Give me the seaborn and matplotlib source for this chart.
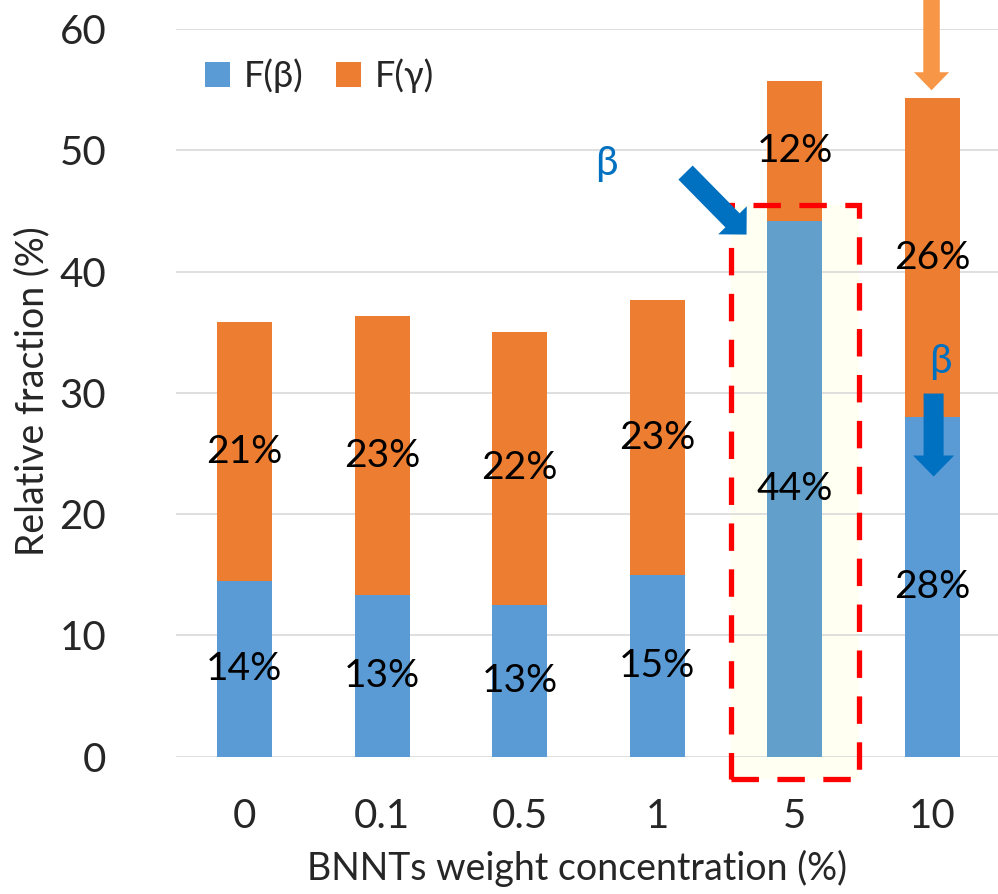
import matplotlib
matplotlib.use("Agg")
import matplotlib.pyplot as plt
import matplotlib.transforms as mtransforms
from matplotlib.patches import FancyArrow, Rectangle, Patch
import seaborn as sns
import pandas as pd

# ---- data ----
categories = ["0", "0.1", "0.5", "1", "5", "10"]
beta_values = [14.45, 13.35, 12.5, 14.95, 44.15, 28.0]
total_values = [35.85, 36.3, 35.05, 37.65, 55.7, 54.3]
gamma_values = [t - b for t, b in zip(total_values, beta_values)]
beta_labels = ["14%", "13%", "13%", "15%", "44%", "28%"]
gamma_labels = ["21%", "23%", "22%", "23%", "12%", "26%"]
y_ticks = [0, 10, 20, 30, 40, 50, 60]

BLUE = "#5B9BD5"
BLUE_HL = "#62A0CB"
ORANGE = "#ED7D31"
ARROW_BLUE = "#0070C0"
ARROW_ORANGE = "#F79646"

sns.set_theme(style="white")
plt.rcParams["font.family"] = ["Lato", "DejaVu Sans"]

W, H = 998, 894
fig = plt.figure(figsize=(W / 100, H / 100), dpi=100)
ax_left, ax_right = 175.7, 1001.0
ax_top, ax_bottom = 29.0, 756.7
ax = fig.add_axes([ax_left / W, (H - ax_bottom) / H,
                   (ax_right - ax_left) / W, (ax_bottom - ax_top) / H])

df = pd.DataFrame({"cat": categories, "beta": beta_values,
                   "total": total_values, "gamma": gamma_values})

# highlight box behind bar "5"
hl_idx = categories.index("5")
ax.add_patch(Rectangle((hl_idx - 0.46, -1.85), 0.93, 47.35,
                       facecolor="#FFFFF2", edgecolor="none", zorder=0.5,
                       clip_on=False))

sns.barplot(data=df, x="cat", y="total", color=ORANGE, width=0.4,
            ax=ax, zorder=2, saturation=1, linewidth=0)
beta_colors = [BLUE_HL if c == "5" else BLUE for c in categories]
sns.barplot(data=df, x="cat", y="beta", hue="cat", palette=beta_colors,
            width=0.4, ax=ax, zorder=3, saturation=1, legend=False,
            linewidth=0, dodge=False)

# red dashed frame
ax.add_patch(Rectangle((hl_idx - 0.46, -1.85), 0.93, 47.35,
                       facecolor="none", edgecolor="#FF0000", lw=3.8,
                       linestyle=(0, (5.2, 3.5)), zorder=6, clip_on=False))

# segment labels
LBL = 28
for i in range(len(categories)):
    ax.text(i, beta_values[i] / 2, beta_labels[i], ha="center", va="center",
            fontsize=LBL, color="black", zorder=7)
    ax.text(i, beta_values[i] + gamma_values[i] / 2, gamma_labels[i],
            ha="center", va="center", fontsize=LBL, color="black", zorder=7)

ax.set_ylim(0, 60)
ax.set_xlim(-0.5, 5.5)
ax.set_yticks(y_ticks)
ax.tick_params(axis="y", labelsize=29, pad=50, length=0)
ax.tick_params(axis="x", labelsize=29, pad=30, length=0)
ax.grid(axis="y", color="#D9D9D9", lw=1.2, zorder=0)
ax.set_axisbelow(True)
for s in ax.spines.values():
    s.set_visible(False)

ax.set_xlabel("BNNTs weight concentration (%)", fontsize=27)
ax.set_ylabel("Relative fraction (%)", fontsize=27)
ax.xaxis.set_label_coords((577 - ax_left) / (ax_right - ax_left),
                          (ax_bottom - 868) / (ax_bottom - ax_top))
ax.yaxis.set_label_coords((32 - ax_left) / (ax_right - ax_left),
                          (ax_bottom - 391) / (ax_bottom - ax_top))
ax.yaxis.label.set_va("center")
ax.xaxis.label.set_va("center")

# legend
handles = [Patch(facecolor=BLUE, edgecolor="none", label="F(β)"),
           Patch(facecolor=ORANGE, edgecolor="none", label="F(γ)")]
ax.legend(handles=handles, loc="center left", ncol=2, frameon=False,
          fontsize=26, handlelength=0.68, handleheight=0.68,
          handletextpad=0.4, columnspacing=0.9, borderpad=0,
          borderaxespad=0,
          bbox_to_anchor=((205 - ax_left) / (ax_right - ax_left),
                          (ax_bottom - 76) / (ax_bottom - ax_top)))

# arrows (drawn in display pixels, anchored to data positions)
fig.canvas.draw()
ident = mtransforms.IdentityTransform()

def add_arrow(tip_data, dx, dy, width, head_w, head_l, color):
    tx, ty = ax.transData.transform(tip_data)
    fig.patches.append(FancyArrow(tx - dx, ty - dy, dx, dy, width=width,
                                  head_width=head_w, head_length=head_l,
                                  length_includes_head=True, color=color,
                                  lw=0, transform=ident, figure=fig,
                                  zorder=8))

# diagonal blue arrow toward the 5 % β bar
add_arrow((3.65, 43.05), 61, -62, 20, 40, 20, ARROW_BLUE)
# orange arrow on top of the 10 % bar
add_arrow((4.995, 54.95), 0, -100, 16.5, 35, 18, ARROW_ORANGE)
# blue downward arrow on the 10 % β segment
add_arrow((5.01, 23.1), 0, -83, 20, 41, 21, ARROW_BLUE)

ax.text(2.63, 48.9, "β", color=ARROW_BLUE, fontsize=29, ha="center",
        va="center")
ax.text(5.06, 32.6, "β", color=ARROW_BLUE, fontsize=29, ha="center",
        va="center", zorder=9)

fig.savefig("out.png", dpi=100)
